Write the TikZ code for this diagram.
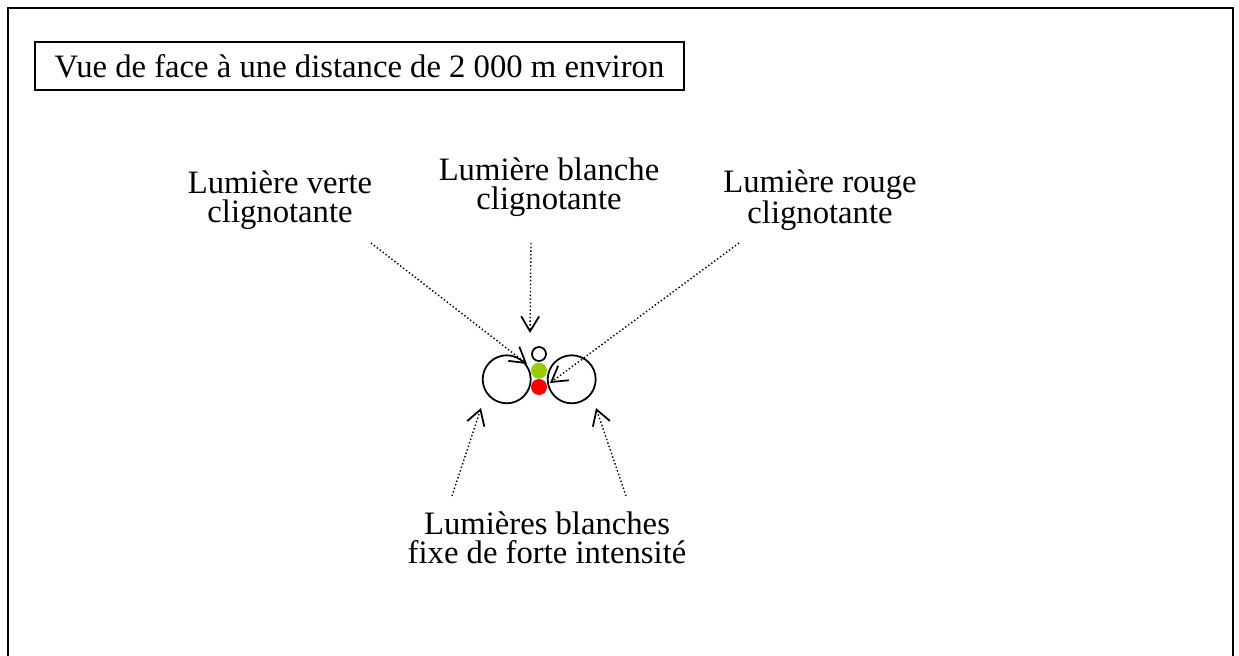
\documentclass[tikz,border=0pt]{standalone}
\usepackage{fontspec}
\setmainfont{Liberation Serif}
\usetikzlibrary{arrows.meta}
\definecolor{feuvert}{RGB}{153,204,0}
\definecolor{feurouge}{RGB}{255,0,0}
\tikzset{
  lampe/.style={circle, inner sep=0pt, line width=1pt},
  legende/.style={align=center, font=\fontsize{18.6}{16.8}\selectfont},
  pointille/.style={line width=0.8pt, dash pattern=on 0.8pt off 1.3pt,
    -{Straight Barb[length=0.3cm, width=0.36cm, line width=1pt]}}
}
\begin{document}
\begin{tikzpicture}[x=0.02cm, y=-0.02cm]
   \useasboundingbox (0,0) rectangle (1239,655);
   % cadre (ouvert en bas)
   \draw[line width=1.1pt] (8,700) -- (8,8) -- (1233,8) -- (1233,700);
   \node (titre) [draw, line width=1pt, minimum width=12.98cm, minimum height=0.96cm,
     font=\fontsize{18.6}{16.8}\selectfont] at (359.5,66)
     {Vue de face à une distance de 2~000 m environ};

   % feux
   \node (gauche) [lampe, draw, minimum size=0.96cm] at (506.7,379.3) {};
   \node (droite) [lampe, draw, minimum size=0.96cm] at (571.7,379.3) {};
   \node (blanc)  [lampe, draw, minimum size=0.28cm] at (539,354) {};
   \node (vert)   [lampe, fill=feuvert, minimum size=0.32cm] at (539,370.7) {};
   \node (rouge)  [lampe, fill=feurouge, minimum size=0.32cm] at (539,387) {};

   % legendes
   \node (Lverte)   [legende] at (280,200) {Lumière verte\\clignotante};
   \node (Lblanche) [legende] at (549,187) {Lumière blanche\\clignotante};
   \node (Lrouge)   [legende] at (820,200) {Lumière rouge\\clignotante};
   \node (Lfixes)   [legende] at (547,538) {Lumières blanches\\fixe de forte intensité};

   \coordinate (vs) at (371,243);  \coordinate (vt) at (527,364);
   \coordinate (bs) at (531,243);  \coordinate (bt) at (530,333);
   \coordinate (rs) at (739,243);  \coordinate (rt) at (550,383);
   \coordinate (gs) at (452,496);  \coordinate (gt) at (481,408);
   \coordinate (ds) at (626,496);  \coordinate (dt) at (596,408);
   \path[pointille]
     (vs) edge (vt)
     (bs) edge (bt)
     (rs) edge (rt)
     (gs) edge (gt)
     (ds) edge (dt);
\end{tikzpicture}
\end{document}
